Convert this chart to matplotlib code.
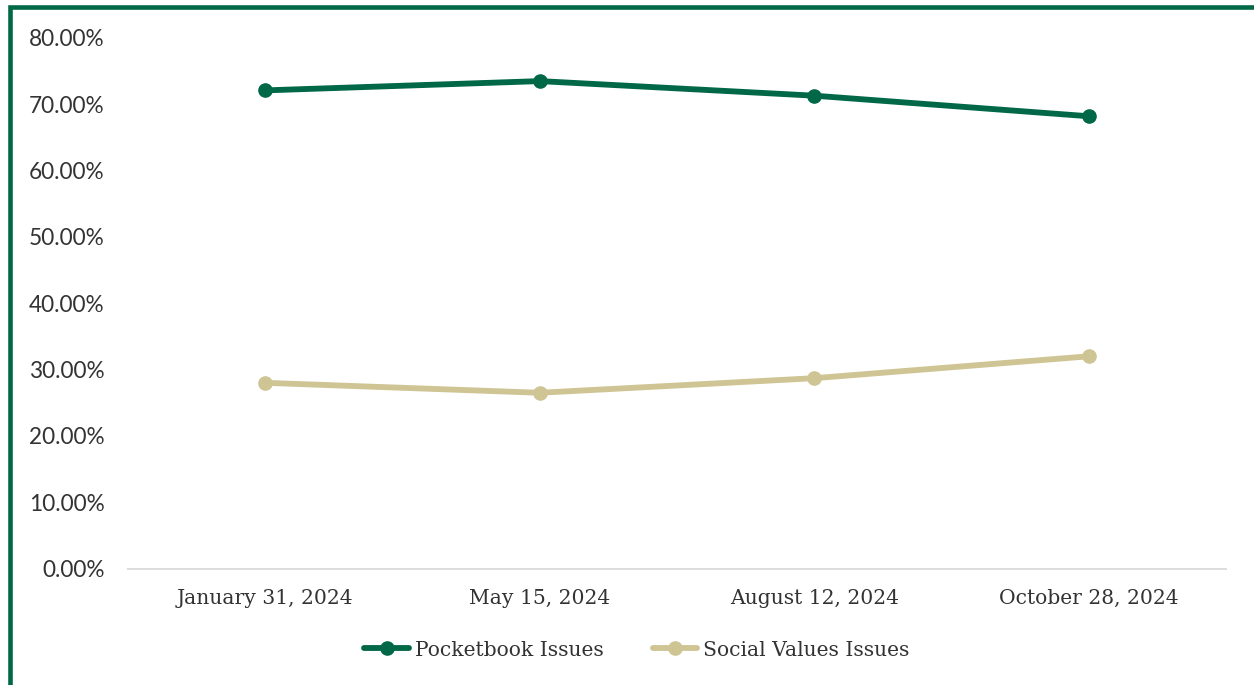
import matplotlib
matplotlib.use("Agg")
import matplotlib.pyplot as plt
from matplotlib.patches import Rectangle
from matplotlib.ticker import FuncFormatter

# survey waves
dates = ["January 31, 2024", "May 15, 2024", "August 12, 2024", "October 28, 2024"]
pocketbook = [72.1, 73.5, 71.3, 68.2]
social_values = [28.0, 26.5, 28.7, 32.0]
series_names = ["Pocketbook Issues", "Social Values Issues"]

green = "#006747"
sand = "#CFC493"
text_col = "#333333"

W, H = 1254, 685
fig = plt.figure(figsize=(W / 100, H / 100), dpi=100)
ax = fig.add_axes([128 / W, (H - 568.5) / H, (1226 - 128) / W, (568.5 - 38) / H])

x = range(len(dates))
ax.plot(x, pocketbook, color=green, lw=4.2, marker="o", ms=9.5,
        solid_capstyle="round", label=series_names[0], zorder=3)
ax.plot(x, social_values, color=sand, lw=4.2, marker="o", ms=9.5,
        solid_capstyle="round", label=series_names[1], zorder=3)

ax.set_xlim(-0.5, len(dates) - 0.5)
ax.set_ylim(0, 80)
ax.set_yticks(range(0, 81, 10))
ax.yaxis.set_major_formatter(FuncFormatter(lambda v, _: f"{v:.2f}%"))
ax.set_xticks(list(x))
ax.set_xticklabels(dates)

for s in ["top", "right", "left"]:
    ax.spines[s].set_visible(False)
ax.spines["bottom"].set_color("#d9d9d9")
ax.spines["bottom"].set_linewidth(1.3)
ax.tick_params(axis="both", length=0)
ax.tick_params(axis="y", pad=17)
ax.tick_params(axis="x", pad=15)

for lab in ax.get_yticklabels():
    lab.set_fontfamily("Lato")
    lab.set_fontsize(16.3)
    lab.set_color(text_col)
for lab in ax.get_xticklabels():
    lab.set_fontfamily("DejaVu Serif")
    lab.set_fontsize(14.6)
    lab.set_color(text_col)

leg = ax.legend(loc="center", bbox_to_anchor=(637 / W, (H - 650) / H), bbox_transform=fig.transFigure,
                ncol=2, frameon=False, handlelength=2.2, columnspacing=2.4, handletextpad=0.3,
                prop={"family": "DejaVu Serif", "size": 14.6})
for t in leg.get_texts():
    t.set_color(text_col)

# green frame around the chart area
fig.add_artist(Rectangle((9.5 / W, -0.2), 1.5, 1.2 - 7.3 / H, transform=fig.transFigure,
                         fill=False, edgecolor=green, lw=3.3, clip_on=False))

fig.savefig("out.png", dpi=100)
